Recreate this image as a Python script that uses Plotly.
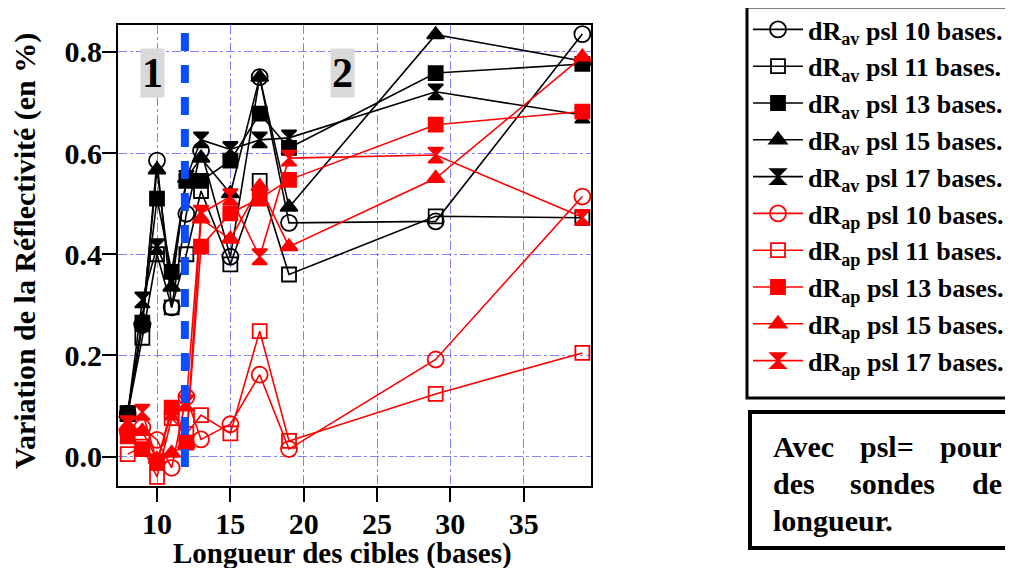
import plotly.graph_objects as go

x_len = [8, 9, 10, 11, 12, 13, 15, 17, 19, 29, 39]

av10 = [0.085, 0.26, 0.585, 0.295, 0.48, 0.605, 0.395, 0.75, 0.462, 0.465, 0.835]
av11 = [0.085, 0.235, 0.40, 0.295, 0.40, 0.525, 0.38, 0.545, 0.36, 0.475, 0.472]
av13 = [0.085, 0.265, 0.51, 0.365, 0.545, 0.545, 0.585, 0.678, 0.61, 0.758, 0.776]
av15 = [0.085, 0.27, 0.567, 0.335, 0.55, 0.59, 0.52, 0.75, 0.493, 0.834, 0.782]
av17 = [0.085, 0.31, 0.415, 0.345, 0.55, 0.626, 0.607, 0.626, 0.63, 0.721, 0.675]

ap10 = [0.05, 0.058, 0.033, -0.022, 0.118, 0.034, 0.064, 0.162, 0.015, 0.192, 0.514]
ap11 = [0.005, 0.02, -0.04, 0.076, 0.045, 0.082, 0.046, 0.248, 0.031, 0.124, 0.205]
ap13 = [0.04, 0.015, -0.012, 0.097, 0.028, 0.415, 0.481, 0.51, 0.547, 0.656, 0.682]
ap15 = [0.06, 0.05, -0.005, 0.007, 0.025, 0.47, 0.43, 0.534, 0.415, 0.55, 0.79]
ap17 = [0.065, 0.088, -0.01, 0.088, 0.106, 0.481, 0.514, 0.395, 0.59, 0.596, 0.473]

series = [
    ("dR<sub>av</sub> psl 10 bases.", av10, "black", "circle-open", 16),
    ("dR<sub>av</sub> psl 11 bases.", av11, "black", "square-open", 14),
    ("dR<sub>av</sub> psl 13 bases.", av13, "black", "square", 14),
    ("dR<sub>av</sub> psl 15 bases.", av15, "black", "triangle-up", 15),
    ("dR<sub>av</sub> psl 17 bases.", av17, "black", "hourglass", 15),
    ("dR<sub>ap</sub> psl 10 bases.", ap10, "#ff0000", "circle-open", 16),
    ("dR<sub>ap</sub> psl 11 bases.", ap11, "#ff0000", "square-open", 14),
    ("dR<sub>ap</sub> psl 13 bases.", ap13, "#ff0000", "square", 14),
    ("dR<sub>ap</sub> psl 15 bases.", ap15, "#ff0000", "triangle-up", 15),
    ("dR<sub>ap</sub> psl 17 bases.", ap17, "#ff0000", "hourglass", 15),
]

FONT = "Liberation Serif"
OFF = 8  # default page body margin of the html page

fig = go.Figure()
for i, (name, yv, col, sym, sz) in enumerate(series):
    fig.add_trace(go.Scatter(
        x=x_len, y=yv, name=name, mode="lines+markers",
        line=dict(color=col, width=1.6),
        marker=dict(symbol=sym, size=sz, color=col, line=dict(color=col, width=1.8)),
        legendgroup=f"g{i}",
    ))

# page pixel -> paper coordinates (plot area spans 118..591 x, 25..486 y on the page)
def px2paper_x(px):
    return (px - 118) / 473.0

def px2paper_y(py):
    return (486 - py) / 461.0

# blue dashed separation line
fig.add_shape(type="line", xref="x", yref="paper", x0=11.9, x1=11.9,
              y0=px2paper_y(467), y1=px2paper_y(20),
              line=dict(color="#0a4cff", width=8, dash="18px,14px"))

# region labels
for lab, xv in [("1", 9.67), ("2", 22.63)]:
    fig.add_annotation(x=xv, y=0.758, xref="x", yref="y", text=lab,
                       showarrow=False, bgcolor="#d9d9d9",
                       font=dict(family=FONT, size=42, color="black", weight="bold"),
                       borderpad=1)

# axis titles
fig.add_annotation(x=px2paper_x(342), y=px2paper_y(553), xref="paper", yref="paper",
                   text="Longueur des cibles (bases)", showarrow=False,
                   xanchor="center", yanchor="middle",
                   font=dict(family=FONT, size=29, color="black", weight="bold"))
fig.add_annotation(x=px2paper_x(25), y=px2paper_y(251), xref="paper", yref="paper",
                   text="Variation de la Réflectivité (en %)", showarrow=False, textangle=-90,
                   xanchor="center", yanchor="middle",
                   font=dict(family=FONT, size=30, color="black", weight="bold"))

# legend frame
fig.add_shape(type="rect", xref="paper", yref="paper",
              x0=px2paper_x(747), x1=px2paper_x(1040), y0=px2paper_y(398), y1=px2paper_y(7),
              line=dict(color="black", width=3))

# note box
fig.add_shape(type="rect", xref="paper", yref="paper",
              x0=px2paper_x(750), x1=px2paper_x(1040), y0=px2paper_y(548), y1=px2paper_y(412),
              line=dict(color="black", width=4))

words = [
    ("Avec", 771, 446, "left"), ("psl=", 858, 446, "left"), ("pour", 1004, 446, "right"),
    ("des", 771, 483, "left"), ("sondes", 848, 483, "left"), ("de", 1004, 483, "right"),
    ("longueur.", 771, 520, "left"),
]
for w, px, py, anc in words:
    fig.add_annotation(x=px2paper_x(px), y=px2paper_y(py), xref="paper", yref="paper",
                       text=w, showarrow=False, xanchor=anc, yanchor="middle",
                       font=dict(family=FONT, size=30, color="black", weight="bold"))

axis_common = dict(
    showline=True, linecolor="black", linewidth=2, mirror=True,
    ticks="outside", ticklen=14, tickwidth=2, tickcolor="black",
    showgrid=True, gridcolor="rgba(90,90,255,0.75)", gridwidth=1, griddash="dashdot",
    zeroline=False,
    tickfont=dict(family=FONT, size=30, color="black", weight="bold"),
)

fig.update_layout(
    width=1013 - OFF, height=568 - OFF,
    margin=dict(l=118 - OFF, r=422, t=25 - OFF, b=82, autoexpand=False),
    paper_bgcolor="white", plot_bgcolor="white",
    xaxis=dict(range=[7.34, 39.59], tickvals=[10, 15, 20, 25, 30, 35], **axis_common),
    yaxis=dict(range=[-0.058, 0.853], tickvals=[0, 0.2, 0.4, 0.6, 0.8], tickformat=".1f",
               **axis_common),
    showlegend=True,
    legend=dict(x=px2paper_x(748), y=px2paper_y(6), xanchor="left", yanchor="top",
                borderwidth=0, bgcolor="rgba(0,0,0,0)",
                font=dict(family=FONT, size=26, color="black", weight="bold"),
                itemwidth=50, tracegroupgap=0, traceorder="grouped", maxheight=560),
)

try:
    fig.update_yaxes(ticklabelstandoff=-6)
    fig.update_xaxes(ticklabelstandoff=-4)
except ValueError:
    pass

fig.write_html("out.html")
